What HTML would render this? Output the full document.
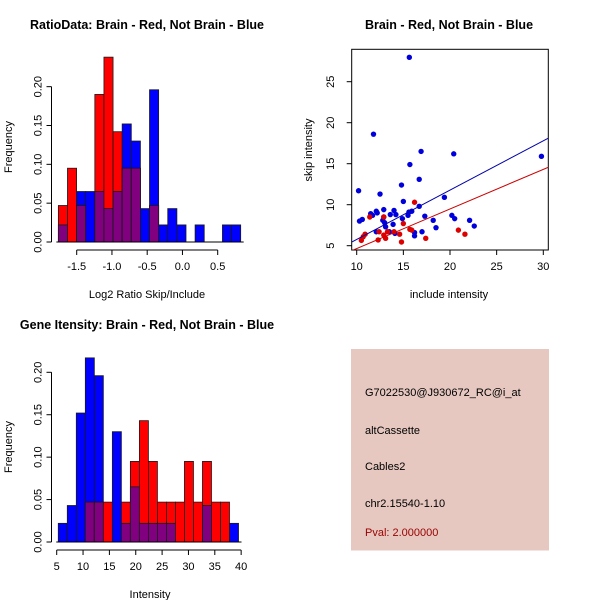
<!DOCTYPE html>
<html><head><meta charset="utf-8"><style>
html,body{margin:0;padding:0;background:#fff;}
svg{display:block;font-family:"Liberation Sans",sans-serif;}
</style></head><body>
<svg id="c" width="600" height="600"></svg>
<script>
// ---- Data ----
const ratioBlue = [0.022,0,0.065,0.065,0.065,0.043,0.065,0.152,0.13,0.043,0.196,0.022,0.043,0.022,0,0.022,0,0,0.022,0.022];
const ratioRed  = [0.047,0.095,0.047,0,0.19,0.238,0.142,0.095,0.095,0,0.047,0,0,0,0,0,0,0,0,0];
const ratioStart = -1.76, ratioBinW = 0.1293;
const ratioXTicks = [-1.5,-1.0,-0.5,0.0,0.5];
const ratioXLabels = ["-1.5","-1.0","-0.5","0.0","0.5"];
const freqTicks = [0,0.05,0.10,0.15,0.20];
const freqLabels = ["0.00","0.05","0.10","0.15","0.20"];

const intBlue = [0.022,0.043,0.152,0.217,0.196,0,0.13,0.022,0.065,0.022,0.022,0.022,0.022,0,0,0,0.043,0,0,0.022];
const intRed  = [0,0,0,0.047,0.047,0.047,0,0.047,0.095,0.143,0.095,0.047,0.047,0.047,0.095,0.047,0.095,0.047,0.047,0];
const intStart = 5.3, intBinW = 1.71;
const intXTicks = [5,10,15,20,25,30,35,40];
const intXLabels = ["5","10","15","20","25","30","35","40"];

const blueX = [15.64,11.8,10.2,10.3,10.6,11.5,11.7,12.1,12.2,12.5,12.1,12.8,12.9,12.9,13.0,13.1,13.6,13.5,13.9,14.0,14.2,14.1,14.8,14.9,15.0,15.5,15.6,15.9,15.7,16.2,16.2,16.7,16.7,16.9,17.0,17.3,18.2,18.5,19.4,20.2,20.4,20.5,22.1,22.6,29.8];
const blueY = [27.97,18.6,11.7,8.0,8.2,8.9,8.7,9.2,9.0,11.3,6.7,8.1,9.4,8.5,7.8,7.3,8.8,6.7,7.6,9.3,8.8,6.5,12.4,8.3,10.4,8.7,9.1,9.2,14.9,6.2,6.6,13.1,9.8,16.5,6.7,8.6,8.1,7.2,10.9,8.7,16.2,8.3,8.1,7.4,15.9];
const redX = [10.5,10.7,10.9,11.4,12.3,12.4,12.9,13.1,13.3,12.9,14.0,14.6,14.8,15.0,15.7,15.9,16.2,17.4,20.9,21.6];
const redY = [5.65,6.1,6.4,8.5,5.7,6.7,6.3,5.9,6.7,8.5,6.7,6.4,5.45,7.7,7.0,6.9,10.3,5.9,6.9,6.4];
const blueFit = [-0.24,0.601]; // intercept, slope
const redFit = [-0.18,0.483];
const scXTicks = [10,15,20,25,30], scYTicks = [5,10,15,20,25];

// ---- helpers ----
const svg = document.getElementById('c');
const NS = 'http://www.w3.org/2000/svg';
function mk(tag, attrs, parent){const e=document.createElementNS(NS,tag);for(const k in attrs)e.setAttribute(k,attrs[k]);(parent||svg).appendChild(e);return e;}
function txt(s,attrs){const e=mk('text',attrs);e.textContent=s;return e;}

function histogram(o){
  const xs=v=>o.x0px+(v-o.x0)*o.kx, ys=v=>o.y0px-v*o.ky;
  const g=mk('g',{});
  
  
  const n=o.blue.length;
  for(let i=0;i<n;i++){
    const a=xs(o.start+i*o.w), b=xs(o.start+(i+1)*o.w);
    const bl=o.blue[i], rd=o.red[i], mn=Math.min(bl,rd);
    if(bl>0){const r=mk('rect',{x:a,y:ys(bl),width:b-a,height:ys(0)-ys(bl),fill:'#0000FF',stroke:'#1a1a1a','stroke-width':0.8},g);
      }
    if(rd>0){const r=mk('rect',{x:a,y:ys(rd),width:b-a,height:ys(0)-ys(rd),fill:'#FF0000',stroke:'#1a1a1a','stroke-width':0.8},g);
      }
    if(mn>0){const r=mk('rect',{x:a,y:ys(mn),width:b-a,height:ys(0)-ys(mn),fill:'#800080',stroke:'#1a1a1a','stroke-width':0.8},g);
      }
  }
  // y axis
  const ya=mk('g',{});
  mk('line',{x1:o.yaxX,x2:o.yaxX,y1:ys(0),y2:ys(0.2),stroke:'#000'},ya);
  freqTicks.forEach((t,i)=>{mk('line',{x1:o.yaxX-5,x2:o.yaxX,y1:ys(t),y2:ys(t),stroke:'#000'},ya);
    const tt=mk('text',{x:0,y:0,transform:`translate(${o.yaxX-10},${ys(t)}) rotate(-90)`,'text-anchor':'middle','font-size':11},ya);tt.textContent=freqLabels[i];});
  // x axis
  const xa=mk('g',{});
  mk('line',{x1:xs(o.xt[0]),x2:xs(o.xt[o.xt.length-1]),y1:o.xaxY,y2:o.xaxY,stroke:'#000'},xa);
  o.xt.forEach((t,i)=>{mk('line',{x1:xs(t),x2:xs(t),y1:o.xaxY,y2:o.xaxY+5,stroke:'#000'},xa);
    const tt=mk('text',{x:xs(t),y:o.xaxY+20,'text-anchor':'middle','font-size':11},xa);tt.textContent=o.xl[i];});
  // baseline under bars
  mk('line',{x1:xs(o.start)-2,x2:xs(o.start+n*o.w)+3,y1:ys(0),y2:ys(0),stroke:'#000'},g);
}

histogram({name:'ratio-histogram',blue:ratioBlue,red:ratioRed,start:ratioStart,w:ratioBinW,
  x0:-1.5,x0px:76.7,kx:70.5,y0px:242,ky:776.7,yaxX:51.5,xaxY:250,xt:ratioXTicks,xl:ratioXLabels});
histogram({name:'intensity-histogram',blue:intBlue,red:intRed,start:intStart,w:intBinW,
  x0:5,x0px:56.7,kx:5.27,y0px:542,ky:848.5,yaxX:51.5,xaxY:550,xt:intXTicks,xl:intXLabels});

// titles & labels
let t;
t=txt('RatioData: Brain - Red, Not Brain - Blue',{x:147,y:29,'text-anchor':'middle','font-size':12.5,'font-weight':'bold'});

t=txt('Log2 Ratio Skip/Include',{x:147,y:298,'text-anchor':'middle','font-size':11});

t=txt('Frequency',{transform:'translate(12,147) rotate(-90)','text-anchor':'middle','font-size':11});

t=txt('Gene Itensity: Brain - Red, Not Brain - Blue',{x:147,y:329,'text-anchor':'middle','font-size':12.5,'font-weight':'bold'});

t=txt('Intensity',{x:150,y:598,'text-anchor':'middle','font-size':11});

t=txt('Frequency',{transform:'translate(12,447) rotate(-90)','text-anchor':'middle','font-size':11});


// ---- scatter ----
const sx=v=>356.7+(v-10)*9.33, sy=v=>245.7-(v-5)*8.2;
const sg=mk('g',{});
const cp=mk('clipPath',{id:'sc'},sg);mk('rect',{x:351.7,y:49.3,width:196.6,height:200.7},cp);
const box=mk('rect',{x:351.7,y:49.3,width:196.6,height:200.7,fill:'none',stroke:'#000'},sg);

blueX.forEach((x,i)=>{const c=mk('circle',{cx:sx(x),cy:sy(blueY[i]),r:2.7,fill:'#0000DD'},sg);
  });
redX.forEach((x,i)=>{const c=mk('circle',{cx:sx(x),cy:sy(redY[i]),r:2.7,fill:'#DD0000'},sg);
  });
[[blueFit,'#0000AA','fit-line-blue'],[redFit,'#CC0000','fit-line-red']].forEach(([f,col,nm])=>{
  const l=mk('line',{x1:sx(8),y1:sy(f[0]+f[1]*8),x2:sx(32),y2:sy(f[0]+f[1]*32),stroke:col,'stroke-width':1,'clip-path':'url(#sc)'},sg);
  });
scXTicks.forEach(v=>{mk('line',{x1:sx(v),x2:sx(v),y1:250,y2:255,stroke:'#000'},sg);
  const e=txt(String(v),{x:sx(v),y:270,'text-anchor':'middle','font-size':11});});
scYTicks.forEach(v=>{mk('line',{x1:346.7,x2:351.7,y1:sy(v),y2:sy(v),stroke:'#000'},sg);
  const e=txt(String(v),{transform:`translate(334,${sy(v)}) rotate(-90)`,'text-anchor':'middle','font-size':11});});
t=txt('Brain - Red, Not Brain - Blue',{x:449,y:29,'text-anchor':'middle','font-size':12.5,'font-weight':'bold'});

t=txt('include intensity',{x:449,y:298,'text-anchor':'middle','font-size':11});

t=txt('skip intensity',{transform:'translate(312,150) rotate(-90)','text-anchor':'middle','font-size':11});


// ---- info panel ----
const ip=mk('rect',{x:351,y:349,width:198,height:201.5,fill:'#E6C8C0'});

[['G7022530@J930672_RC@i_at',396,'#000','probe-id'],['altCassette',434,'#000','event-type'],['Cables2',470,'#000','gene-name'],['chr2.15540-1.10',507,'#000','location'],['Pval: 2.000000',536,'#990000','p-value']].forEach(([s,y,c,n])=>{
  const e=txt(s,{x:365,y:y,'font-size':11,fill:c});});
</script>
</body></html>
